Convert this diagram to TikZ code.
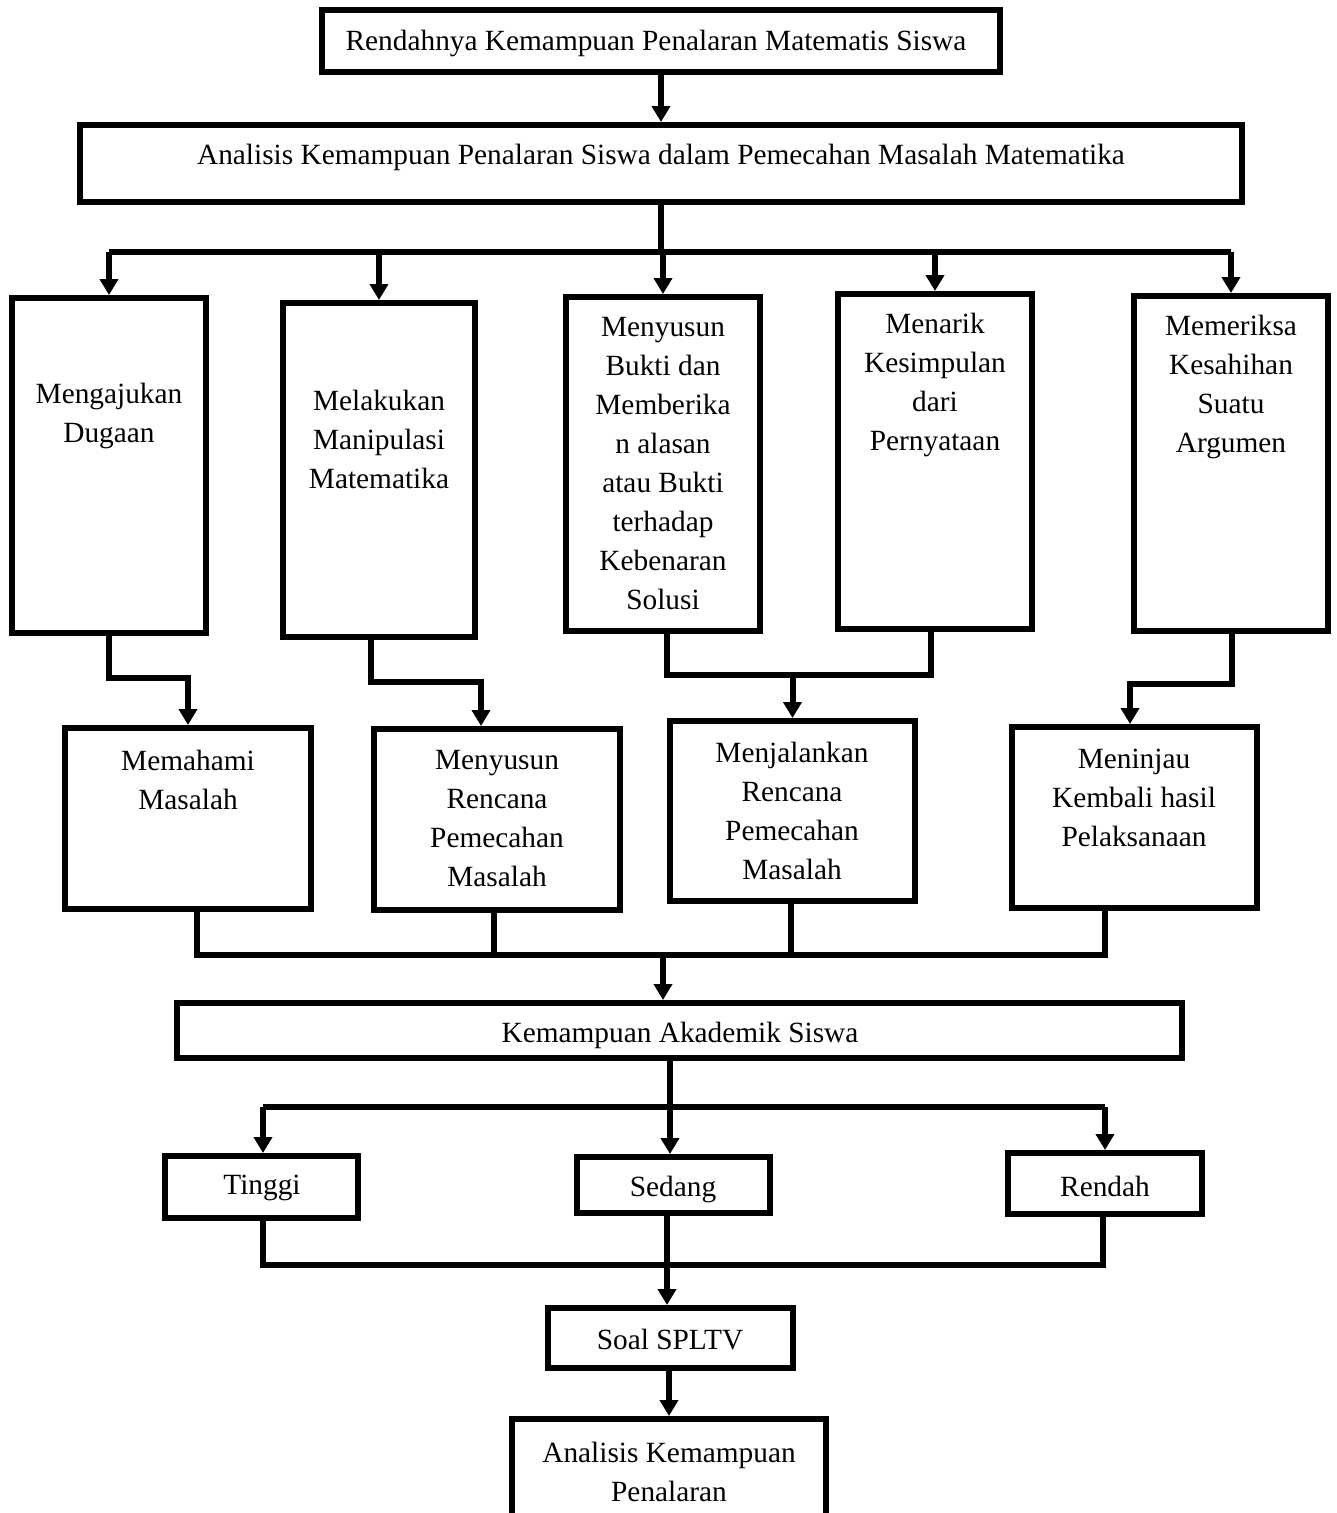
\documentclass[tikz,border=0pt]{standalone}
\usepackage{fontspec}
\setmainfont{Liberation Serif}
\usetikzlibrary{arrows.meta,fit}
\begin{document}
\begin{tikzpicture}[x=0.75pt,y=-0.75pt,
  box/.style={draw=black,line width=4.5pt,inner sep=0pt,rectangle},
  txt/.style={align=center,inner sep=0pt,font=\fontsize{22}{29.25}\selectfont},
  ln/.style={line width=4.5pt},
  arr/.style={line width=4.5pt,-{Triangle[width=13.5pt,length=12pt]}}]
\clip (0,0) rectangle (1337,1513);
% boxes
\node[box,fit={(322,10) (1000,72)}] (top) {};
\node[box,fit={(80,125) (1242,202)}] (ana) {};
\node[box,fit={(12,298) (206,633)}] (b1) {};
\node[box,fit={(283,303) (475,637)}] (b2) {};
\node[box,fit={(566,297) (760,631)}] (b3) {};
\node[box,fit={(838,294) (1032,629)}] (b4) {};
\node[box,fit={(1134,296) (1328,631)}] (b5) {};
\node[box,fit={(65,728) (311,909)}] (b6) {};
\node[box,fit={(374,729) (620,910)}] (b7) {};
\node[box,fit={(670,721) (915,901)}] (b8) {};
\node[box,fit={(1012,727) (1257,908)}] (b9) {};
\node[box,fit={(177,1003) (1182,1058)}] (kem) {};
\node[box,fit={(165,1156) (358,1218)}] (ting) {};
\node[box,fit={(577,1157) (770,1213)}] (sed) {};
\node[box,fit={(1008,1153) (1202,1214)}] (ren) {};
\node[box,fit={(548,1308) (793,1368)}] (soal) {};
\node[box,fit={(512,1419) (826,1540)}] (last) {};
% texts
\node[txt] (ttop) at (656,43) {Rendahnya Kemampuan Penalaran Matematis Siswa};
\node[txt] (tana) at (661,157) {Analisis Kemampuan Penalaran Siswa dalam Pemecahan Masalah Matematika};
\node[txt] (t1) at (109,416) {Mengajukan\\Dugaan};
\node[txt] (t2) at (379,439) {Melakukan\\Manipulasi\\Matematika};
\node[txt] (t3) at (663,464) {Menyusun\\Bukti dan\\Memberika\\n alasan\\atau Bukti\\terhadap\\Kebenaran\\Solusi};
\node[txt] (t4) at (935,385) {Menarik\\Kesimpulan\\dari\\Pernyataan};
\node[txt] (t5) at (1231,387) {Memeriksa\\Kesahihan\\Suatu\\Argumen};
\node[txt] (t6) at (188,780) {Memahami\\Masalah};
\node[txt] (t7) at (497,819) {Menyusun\\Rencana\\Pemecahan\\Masalah};
\node[txt] (t8) at (792,811) {Menjalankan\\Rencana\\Pemecahan\\Masalah};
\node[txt] (t9) at (1134,798) {Meninjau\\Kembali hasil\\Pelaksanaan};
\node[txt] (tkem) at (680,1035) {Kemampuan Akademik Siswa};
\node[txt] (tting) at (262,1188) {Tinggi};
\node[txt] (tsed) at (673,1189) {Sedang};
\node[txt] (tren) at (1105,1186) {Rendah};
\node[txt] (tsoal) at (670,1340) {Soal SPLTV};
\node[txt] (tlast) at (669,1472) {Analisis Kemampuan\\Penalaran};
% connectors
\draw[arr] (top.south) -- (ana.north);
\coordinate (busA) at (661,252);
\draw[ln] (ana.south) -- (busA);
\draw[ln] (b1.north |- busA) -- (b5.north |- busA);
\foreach \n in {b1,b2,b3,b4,b5} \draw[arr] (\n.north |- busA) -- (\n.north);
% row3 -> row4
\coordinate (c1) at (188,678);
\draw[arr] (b1.south) |- (c1) -- (b6.north);
\coordinate (c2a) at (371,682); \coordinate (c2b) at (481,682);
\draw[arr] (b2.south -| c2a) -- (c2a) -- (c2b) -- (b7.north -| c2b);
\coordinate (c3a) at (667,675); \coordinate (c3b) at (931,675);
\draw[ln] (b3.south -| c3a) -- (c3a) -- (c3b) -- (b4.south -| c3b);
\draw[arr] (b8.north |- c3a) -- (b8.north);
\coordinate (c5a) at (1232,684); \coordinate (c5b) at (1130,684);
\draw[arr] (b5.south -| c5a) -- (c5a) -- (c5b) -- (b9.north -| c5b);
% row4 -> kem
\coordinate (d1) at (197,955); \coordinate (d2) at (494,955);
\coordinate (d3) at (791,955); \coordinate (d4) at (1105,955);
\coordinate (d0) at (663,955);
\draw[ln] (b6.south -| d1) -- (d1) -- (d4) -- (b9.south -| d4);
\draw[ln] (b7.south -| d2) -- (d2);
\draw[ln] (b8.south -| d3) -- (d3);
\draw[arr] (d0) -- (kem.north -| d0);
% kem -> levels
\coordinate (e0) at (670,1107); \coordinate (e1) at (263,1107); \coordinate (e2) at (1105,1107);
\draw[arr] (kem.south -| e0) -- (sed.north -| e0);
\draw[ln] (e1) -- (e2);
\draw[arr] (e1) -- (ting.north -| e1);
\draw[arr] (e2) -- (ren.north -| e2);
% levels -> soal
\coordinate (f1) at (263,1265); \coordinate (f2) at (1103,1265); \coordinate (f0) at (667,1265);
\draw[ln] (ting.south -| f1) -- (f1) -- (f2) -- (ren.south -| f2);
\draw[arr] (sed.south -| f0) -- (soal.north -| f0);
\draw[arr] (soal.south -| last.north) -- (last.north);
\end{tikzpicture}
\end{document}
